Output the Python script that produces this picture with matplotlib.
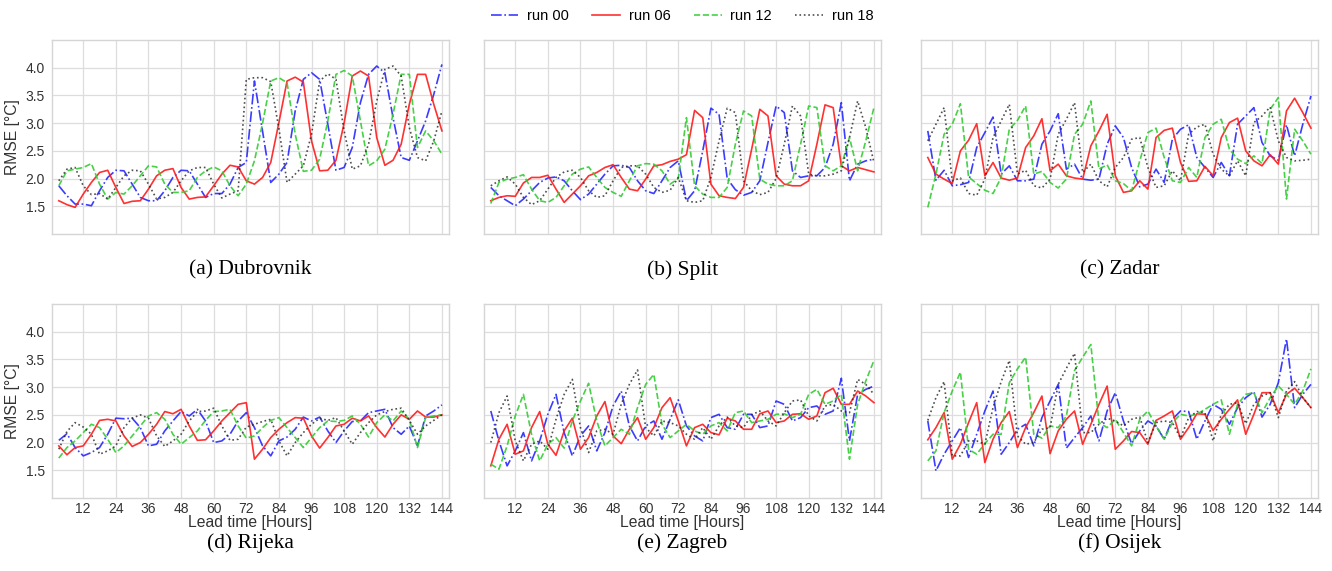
import matplotlib
matplotlib.use("Agg")
import matplotlib.pyplot as plt
import numpy as np

lead_hours = list(range(3, 145, 3))
xtick_hours = [12, 24, 36, 48, 60, 72, 84, 96, 108, 120, 132, 144]
ytick_vals = [1.5, 2.0, 2.5, 3.0, 3.5, 4.0]
run_labels = ["run 00", "run 06", "run 12", "run 18"]
captions = ["(a) Dubrovnik", "(b) Split", "(c) Zadar", "(d) Rijeka", "(e) Zagreb", "(f) Osijek"]

# ---------------- Dubrovnik ----------------
dubrovnik_run00 = [1.87, 1.69, 1.54, 1.54, 1.51, 1.78, 2.02, 2.15,
                   2.14, 1.90, 1.66, 1.60, 1.60, 1.78, 2.02, 2.15,
                   2.14, 1.90, 1.66, 1.73, 1.73, 1.90, 2.20, 2.29,
                   3.76, 2.85, 1.93, 2.08, 2.29, 3.22, 3.79, 3.91,
                   3.79, 2.98, 2.15, 2.20, 2.56, 3.37, 3.88, 4.03,
                   3.91, 3.10, 2.38, 2.33, 2.68, 3.04, 3.52, 4.06]
dubrovnik_run06 = [1.60, 1.53, 1.48, 1.72, 1.93, 2.11, 2.15, 1.84,
                   1.55, 1.59, 1.60, 1.81, 2.05, 2.15, 2.18, 1.84,
                   1.63, 1.66, 1.67, 1.87, 2.08, 2.24, 2.21, 1.96,
                   1.90, 2.02, 2.29, 3.01, 3.76, 3.83, 3.74, 2.68,
                   2.14, 2.15, 2.33, 3.00, 3.85, 3.94, 3.85, 2.74,
                   2.24, 2.33, 2.62, 3.34, 3.88, 3.88, 3.34, 2.86]
dubrovnik_run12 = [1.87, 2.14, 2.17, 2.20, 2.27, 1.90, 1.63, 1.75,
                   1.72, 1.87, 2.05, 2.23, 2.21, 1.90, 1.75, 1.75,
                   1.78, 2.02, 2.14, 2.21, 2.14, 1.87, 1.69, 1.90,
                   2.32, 3.00, 3.76, 3.82, 3.73, 2.80, 2.13, 2.15,
                   2.35, 3.04, 3.88, 3.95, 3.85, 3.04, 2.23, 2.32,
                   2.53, 3.16, 3.88, 3.88, 2.56, 2.86, 2.68, 2.44]
dubrovnik_run18 = [1.96, 2.17, 2.20, 1.87, 1.71, 1.73, 1.63, 1.84,
                   2.05, 2.15, 2.14, 1.90, 1.63, 1.66, 1.75, 1.96,
                   2.14, 2.20, 2.20, 1.90, 1.65, 1.72, 1.78, 3.79,
                   3.82, 3.82, 3.75, 2.90, 1.93, 2.08, 2.23, 2.80,
                   3.76, 3.89, 3.79, 2.86, 2.17, 2.23, 2.62, 3.40,
                   3.97, 4.03, 3.85, 2.92, 2.38, 2.32, 2.68, 3.22]

# ---------------- Split ----------------
split_run00 = [1.84, 1.69, 1.60, 1.51, 1.63, 1.78, 1.93, 2.01,
               2.03, 1.96, 1.78, 1.62, 1.72, 1.90, 2.08, 2.23,
               2.24, 2.20, 1.96, 1.78, 1.73, 1.96, 2.20, 2.32,
               1.60, 1.78, 2.50, 3.27, 3.16, 2.00, 1.80, 1.70,
               1.75, 1.96, 2.65, 3.31, 3.19, 2.14, 2.02, 2.05,
               2.05, 2.20, 2.62, 3.37, 1.96, 2.26, 2.32, 2.35]
split_run06 = [1.60, 1.66, 1.69, 1.68, 1.92, 2.02, 2.02, 2.06,
               1.81, 1.57, 1.72, 1.87, 2.05, 2.11, 2.20, 2.25,
               2.02, 1.81, 1.78, 1.99, 2.23, 2.25, 2.31, 2.35,
               2.43, 3.23, 3.10, 1.90, 1.69, 1.66, 1.64, 1.84,
               2.53, 3.25, 3.13, 2.05, 1.90, 1.87, 1.87, 1.96,
               2.62, 3.33, 3.28, 2.23, 2.14, 2.20, 2.16, 2.12]
split_run12 = [1.55, 1.93, 1.99, 2.02, 2.07, 1.81, 1.60, 1.57,
               1.66, 1.87, 2.08, 2.17, 2.21, 2.02, 1.84, 1.75,
               1.68, 1.96, 2.23, 2.27, 2.26, 2.14, 1.90, 2.00,
               3.10, 1.87, 1.72, 1.66, 1.66, 1.84, 2.62, 3.22,
               3.13, 1.99, 1.90, 1.87, 1.87, 1.96, 2.62, 3.31,
               3.28, 2.23, 2.14, 2.23, 2.74, 2.14, 2.68, 3.28]
split_run18 = [1.87, 1.96, 2.03, 1.90, 1.66, 1.53, 1.60, 1.81,
               2.02, 2.12, 2.15, 2.02, 1.78, 1.66, 1.69, 1.96,
               2.20, 2.23, 2.23, 2.08, 1.84, 1.75, 1.79, 2.02,
               1.60, 1.57, 1.60, 2.02, 2.68, 3.27, 3.19, 1.96,
               1.78, 1.71, 1.75, 2.00, 2.62, 3.31, 3.13, 2.08,
               2.05, 2.05, 2.08, 2.14, 2.74, 3.40, 2.92, 2.29]

# ---------------- Zadar ----------------
zadar_run00 = [2.86, 1.97, 2.15, 1.87, 1.89, 1.93, 2.56, 2.83,
               3.11, 2.08, 2.23, 1.96, 1.96, 1.99, 2.62, 2.86,
               3.17, 2.17, 2.26, 1.99, 1.97, 1.99, 2.62, 2.95,
               2.74, 2.20, 1.85, 1.90, 2.17, 1.93, 2.71, 2.89,
               2.97, 2.38, 2.20, 2.02, 2.29, 2.05, 2.98, 3.13,
               3.28, 2.65, 2.41, 2.33, 2.97, 2.41, 2.98, 3.49]
zadar_run06 = [2.38, 2.08, 1.99, 1.91, 2.50, 2.69, 2.99, 2.05,
               2.29, 2.01, 1.97, 2.01, 2.56, 2.77, 3.08, 2.14,
               2.26, 2.05, 2.01, 1.99, 2.59, 2.86, 3.16, 2.05,
               1.75, 1.78, 1.96, 1.81, 2.74, 2.87, 2.91, 2.29,
               1.95, 1.96, 2.22, 2.05, 2.74, 3.01, 3.09, 2.50,
               2.32, 2.23, 2.43, 2.26, 3.22, 3.45, 3.19, 2.91]
zadar_run12 = [1.48, 2.08, 2.80, 2.98, 3.35, 2.03, 1.91, 1.79,
               1.73, 2.02, 2.89, 3.05, 3.31, 2.08, 2.13, 1.93,
               1.83, 1.99, 2.80, 2.98, 3.40, 2.17, 2.25, 1.96,
               1.91, 1.78, 2.32, 2.83, 2.91, 2.38, 1.96, 1.93,
               2.20, 2.02, 2.74, 2.98, 3.07, 2.53, 2.35, 2.27,
               2.41, 2.27, 3.25, 3.46, 1.63, 2.89, 2.68, 2.44]
zadar_run18 = [2.68, 2.98, 3.28, 1.96, 2.01, 1.73, 1.70, 1.99,
               2.74, 3.04, 3.34, 2.08, 2.15, 1.87, 1.83, 1.99,
               2.80, 3.07, 3.37, 2.11, 2.26, 1.96, 1.85, 2.20,
               2.38, 2.71, 2.74, 2.20, 1.84, 1.87, 2.14, 1.96,
               2.80, 2.93, 2.98, 2.44, 2.17, 2.05, 2.32, 2.05,
               3.01, 3.13, 3.29, 2.68, 2.38, 2.32, 2.33, 2.35]

# ---------------- Rijeka ----------------
rijeka_run00 = [2.04, 2.16, 1.91, 1.76, 1.82, 1.91, 2.15, 2.44,
                2.43, 2.44, 2.27, 1.94, 1.97, 2.21, 2.39, 2.56,
                2.48, 2.60, 2.39, 2.00, 2.03, 2.15, 2.39, 2.54,
                2.27, 1.94, 1.76, 2.03, 2.10, 2.24, 2.46, 2.39,
                2.46, 2.21, 2.00, 2.21, 2.38, 2.39, 2.54, 2.57,
                2.60, 2.27, 2.15, 2.30, 1.94, 2.48, 2.57, 2.68]
rijeka_run06 = [1.94, 1.78, 1.91, 1.94, 2.15, 2.40, 2.42, 2.39,
                2.12, 1.93, 2.00, 2.15, 2.33, 2.56, 2.52, 2.60,
                2.30, 2.04, 2.05, 2.21, 2.39, 2.54, 2.69, 2.72,
                1.70, 1.88, 2.09, 2.24, 2.36, 2.45, 2.44, 2.12,
                1.90, 2.09, 2.30, 2.33, 2.44, 2.39, 2.48, 2.27,
                2.10, 2.33, 2.50, 2.42, 2.57, 2.46, 2.46, 2.50]
rijeka_run12 = [1.72, 1.91, 2.03, 2.18, 2.33, 2.27, 2.06, 1.82,
                1.94, 2.12, 2.30, 2.48, 2.54, 2.42, 2.15, 1.97,
                2.09, 2.21, 2.40, 2.56, 2.57, 2.60, 2.30, 2.08,
                2.12, 2.27, 2.40, 2.45, 2.27, 2.09, 1.91, 2.09,
                2.27, 2.39, 2.38, 2.40, 2.48, 2.33, 2.10, 2.36,
                2.50, 2.39, 2.57, 2.42, 1.91, 2.45, 2.48, 2.50]
rijeka_run18 = [1.88, 2.20, 2.36, 2.28, 2.15, 1.79, 1.85, 1.94,
                2.27, 2.44, 2.50, 2.44, 2.12, 1.93, 2.03, 2.15,
                2.39, 2.56, 2.57, 2.62, 2.30, 2.04, 2.06, 2.28,
                2.33, 2.38, 2.42, 2.03, 1.76, 2.00, 2.18, 2.33,
                2.44, 2.40, 2.45, 2.21, 1.97, 2.18, 2.36, 2.50,
                2.56, 2.60, 2.62, 2.40, 2.15, 2.30, 2.40, 2.50]

# ---------------- Zagreb ----------------
zagreb_run00 = [2.57, 2.03, 1.58, 1.85, 2.18, 1.67, 2.03, 2.51,
                2.87, 2.18, 1.76, 2.12, 2.30, 1.85, 2.18, 2.66,
                2.93, 2.30, 2.03, 2.30, 2.39, 2.06, 2.42, 2.77,
                2.30, 2.12, 2.03, 2.45, 2.51, 2.27, 2.24, 2.51,
                2.51, 2.27, 2.30, 2.75, 2.69, 2.39, 2.45, 2.63,
                2.66, 2.51, 2.57, 3.16, 2.03, 2.87, 2.96, 3.02]
zagreb_run06 = [1.58, 2.06, 2.33, 1.79, 1.85, 2.27, 2.56, 1.97,
                1.77, 2.21, 2.44, 1.88, 2.09, 2.48, 2.74, 2.12,
                1.98, 2.24, 2.45, 2.06, 2.27, 2.63, 2.81, 2.39,
                1.94, 2.27, 2.33, 2.18, 2.14, 2.44, 2.39, 2.24,
                2.24, 2.52, 2.57, 2.36, 2.39, 2.51, 2.52, 2.42,
                2.48, 2.90, 2.98, 2.69, 2.69, 2.93, 2.84, 2.72]
zagreb_run12 = [1.61, 1.52, 1.94, 2.48, 2.87, 2.15, 1.67, 1.97,
                2.09, 1.90, 2.39, 2.75, 3.07, 2.39, 1.94, 2.09,
                2.24, 2.15, 2.63, 3.05, 3.23, 2.33, 2.09, 2.21,
                2.33, 2.21, 2.15, 2.30, 2.36, 2.21, 2.54, 2.57,
                2.36, 2.39, 2.42, 2.51, 2.52, 2.45, 2.51, 2.87,
                2.96, 2.69, 2.75, 2.87, 1.70, 2.69, 3.11, 3.48]
zagreb_run18 = [2.00, 2.54, 2.84, 2.03, 1.67, 1.97, 2.03, 1.88,
                2.42, 2.87, 3.14, 2.27, 1.82, 2.21, 2.24, 2.15,
                2.69, 3.05, 3.31, 2.27, 2.12, 2.39, 2.36, 2.30,
                2.15, 2.06, 2.27, 2.06, 2.30, 2.46, 2.30, 2.27,
                2.50, 2.57, 2.39, 2.30, 2.54, 2.75, 2.77, 2.48,
                2.39, 2.66, 2.69, 2.57, 2.54, 3.14, 3.05, 2.87]

# ---------------- Osijek ----------------
osijek_run00 = [2.39, 1.49, 1.79, 2.03, 2.27, 1.73, 2.15, 2.57,
                2.93, 1.79, 2.00, 2.24, 2.33, 1.94, 2.45, 2.75,
                3.05, 1.90, 2.09, 2.27, 2.48, 2.03, 2.57, 2.90,
                2.39, 1.98, 2.21, 2.39, 2.30, 2.06, 2.42, 2.57,
                2.56, 2.06, 2.39, 2.69, 2.60, 2.33, 2.63, 2.81,
                2.92, 2.46, 2.69, 3.08, 3.87, 2.63, 2.87, 3.05]
osijek_run06 = [2.05, 2.27, 2.54, 1.70, 1.97, 2.36, 2.72, 1.64,
                2.06, 2.36, 2.56, 1.91, 2.27, 2.54, 2.84, 1.80,
                2.21, 2.42, 2.57, 1.97, 2.33, 2.69, 3.02, 1.88,
                2.03, 2.20, 2.18, 1.97, 2.40, 2.48, 2.57, 2.06,
                2.27, 2.52, 2.51, 2.22, 2.42, 2.60, 2.77, 2.15,
                2.51, 2.90, 2.90, 2.54, 2.87, 2.98, 2.81, 2.63]
osijek_run12 = [1.67, 1.85, 2.54, 2.93, 3.27, 1.88, 1.79, 1.98,
                2.15, 2.15, 3.08, 3.33, 3.54, 2.15, 2.08, 2.30,
                2.27, 2.48, 3.30, 3.54, 3.77, 2.36, 2.27, 2.42,
                2.18, 1.94, 2.42, 2.57, 2.30, 2.06, 2.36, 2.51,
                2.48, 2.51, 2.60, 2.69, 2.77, 2.15, 2.69, 2.87,
                2.90, 2.54, 2.81, 3.02, 2.87, 2.69, 2.93, 3.33]
osijek_run18 = [2.40, 2.81, 3.10, 1.76, 1.76, 2.03, 2.03, 1.97,
                2.63, 3.10, 3.48, 2.12, 1.97, 2.00, 2.24, 2.27,
                3.05, 3.34, 3.61, 2.18, 2.18, 2.33, 2.44, 2.39,
                2.30, 2.42, 2.46, 2.00, 2.36, 2.39, 2.36, 2.08,
                2.45, 2.56, 2.54, 2.03, 2.51, 2.69, 2.72, 2.34,
                2.69, 2.84, 2.90, 2.45, 2.93, 3.10, 2.81, 2.63]

stations = [
    [dubrovnik_run00, dubrovnik_run06, dubrovnik_run12, dubrovnik_run18],
    [split_run00, split_run06, split_run12, split_run18],
    [zadar_run00, zadar_run06, zadar_run12, zadar_run18],
    [rijeka_run00, rijeka_run06, rijeka_run12, rijeka_run18],
    [zagreb_run00, zagreb_run06, zagreb_run12, zagreb_run18],
    [osijek_run00, osijek_run06, osijek_run12, osijek_run18],
]

styles = [
    dict(color="#1a1aff", linestyle="-.", alpha=0.85),
    dict(color="#ff1a1a", linestyle="-", alpha=0.9),
    dict(color="#33cc33", linestyle="--", alpha=0.9),
    dict(color="#222222", linestyle=":", alpha=0.8),
]

sans = "Liberation Sans"
serif = "Liberation Serif"

fig = plt.figure(figsize=(13.32, 5.71), dpi=100)
W, H = 1332.0, 571.0
col_left = [52, 484, 921]
ax_w = 397
row_top = [40, 304]
ax_h = 194

lines_for_legend = []
for i, runs in enumerate(stations):
    r, c = divmod(i, 3)
    left = col_left[c] / W
    bottom = 1 - (row_top[r] + ax_h) / H
    ax = fig.add_axes([left, bottom, ax_w / W, ax_h / H])
    ax.set_facecolor("white")
    for k, vals in enumerate(runs):
        ln, = ax.plot(lead_hours, vals, linewidth=1.2, label=run_labels[k], **styles[k])
        if i == 0:
            lines_for_legend.append(ln)
    ax.set_xlim(0.5, 146.6)
    ax.set_ylim(1.0, 4.5)
    ax.set_xticks(xtick_hours)
    ax.set_yticks(ytick_vals)
    ax.grid(True, color="#dddddd", linewidth=0.9)
    ax.set_axisbelow(True)
    for sp in ax.spines.values():
        sp.set_color("#d5d5d5")
        sp.set_linewidth(1.0)
    ax.tick_params(axis="both", length=0, labelsize=10, labelcolor="#333333")
    ax.tick_params(axis="x", pad=3)
    ax.tick_params(axis="y", pad=5)
    for lab in ax.get_xticklabels() + ax.get_yticklabels():
        lab.set_fontfamily(sans)
    if r == 0:
        ax.tick_params(axis="x", labelbottom=False)
    else:
        ax.set_xlabel("Lead time [Hours]", fontsize=11.3, family=sans, color="#333333", labelpad=-1)
    if c == 0:
        ax.set_yticklabels([f"{v:.1f}" for v in ytick_vals])
        ax.set_ylabel("RMSE [°C]", fontsize=11.3, family=sans, color="#333333", labelpad=4)
    else:
        ax.tick_params(axis="y", labelleft=False)
    cap_y = 1 - (270 if r == 0 else 543) / H
    fig.text(left + ax_w / W / 2, cap_y, captions[i], ha="center", va="center",
             fontsize=15.5, family=serif, color="black")

fig.legend(handles=lines_for_legend, labels=run_labels, loc="upper center",
           bbox_to_anchor=(0.512, 1.0), ncol=4, frameon=False,
           prop={"family": sans, "size": 10.5}, handlelength=1.9, columnspacing=1.6,
           handletextpad=0.6, borderaxespad=0.2)

fig.savefig("out.png", dpi=100, facecolor="white")
